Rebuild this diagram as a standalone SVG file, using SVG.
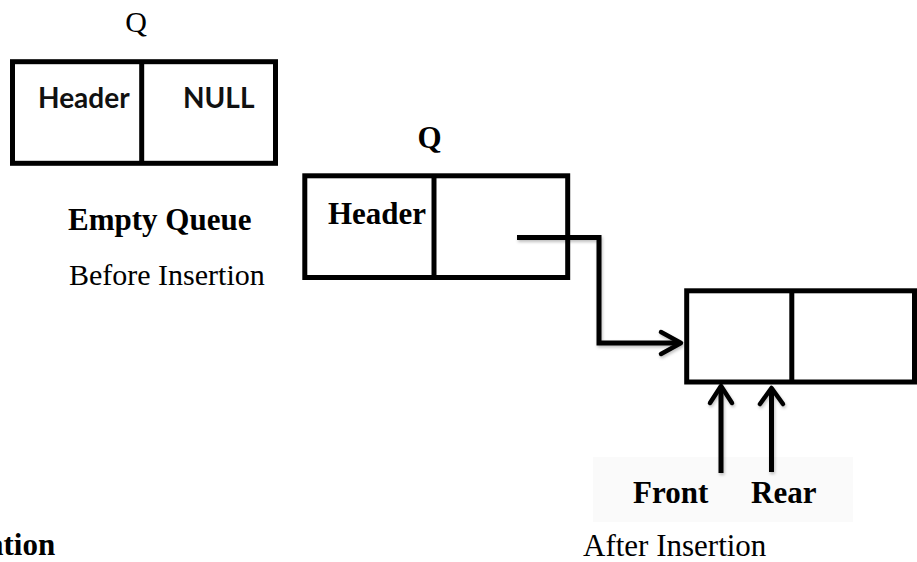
<svg xmlns="http://www.w3.org/2000/svg" width="917" height="562" viewBox="0 0 917 562">
  <defs>
    <style>
      .box { fill: #ffffff; stroke: #000000; stroke-width: 5; }
      .div { stroke: #000000; stroke-width: 5; fill: none; }
      .conn { stroke: #000000; stroke-width: 5; fill: none; stroke-linejoin: miter; }
      .head { stroke: #000000; stroke-width: 4.5; fill: none; stroke-linecap: round; stroke-linejoin: round; }
      .tr { font-family: "Liberation Serif", "Times New Roman", serif; fill: #000000; }
      .trb { font-family: "Liberation Serif", "Times New Roman", serif; font-weight: bold; fill: #000000; }
      .sans { font-family: Lato, "Noto Sans", sans-serif; font-weight: bold; fill: #111111; font-size: 28px; }
    </style>
    <filter id="sh" x="-10%" y="-10%" width="130%" height="130%">
      <feDropShadow dx="1" dy="2" stdDeviation="1.5" flood-color="#000000" flood-opacity="0.25"/>
    </filter>
  </defs>
  <rect width="917" height="562" fill="#ffffff"/>
  <rect x="593" y="457" width="260" height="65" fill="#fafafa"/>

  <g id="empty-queue">
    <text class="tr" x="136" y="32" font-size="30" text-anchor="middle">Q</text>
    <rect class="box" x="12.5" y="61.7" width="263" height="101.6"/>
    <line class="div" x1="141.7" y1="61.7" x2="141.7" y2="163.3"/>
    <text class="sans" x="38" y="108">Header</text>
    <text class="sans" x="183" y="108">NULL</text>
    <text class="trb" x="68" y="230" font-size="31">Empty Queue</text>
    <text class="tr" x="69" y="285" font-size="30">Before Insertion</text>
  </g>

  <g id="header-node">
    <text class="trb" x="429.5" y="148" font-size="31" text-anchor="middle">Q</text>
    <rect class="box" x="304.8" y="175.8" width="262.9" height="101.7"/>
    <line class="div" x1="434" y1="175.8" x2="434" y2="277.5"/>
    <text class="trb" x="328" y="224" font-size="31">Header</text>
  </g>

  <g id="data-node">
    <rect class="box" x="686.7" y="290.8" width="227.8" height="91.2"/>
    <line class="div" x1="791.8" y1="290.8" x2="791.8" y2="382"/>
  </g>

  <g id="connectors" filter="url(#sh)">
    <polyline class="conn" points="517,237.5 599,237.5 599,343 680,343"/>
    <polyline class="head" points="661,332 681,343 661,354"/>
    <line class="conn" x1="721" y1="473" x2="721" y2="388"/>
    <polyline class="head" points="710,403 721,386 732,403"/>
    <line class="conn" x1="771.5" y1="472" x2="771.5" y2="390"/>
    <polyline class="head" points="760,404 771.5,388 783,404"/>
  </g>

  <g id="labels">
    <text class="trb" x="633" y="503" font-size="31">Front</text>
    <text class="trb" x="751" y="503" font-size="31">Rear</text>
    <text class="tr" x="583" y="556" font-size="31">After Insertion</text>
    <text class="trb" x="-12" y="555" font-size="31">ation</text>
  </g>
</svg>
